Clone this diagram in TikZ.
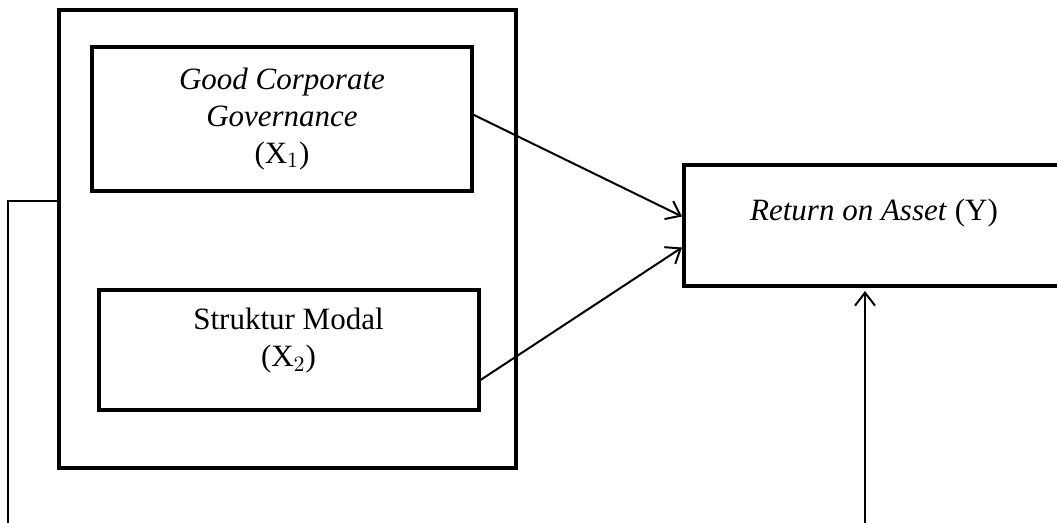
\documentclass[tikz,border=0pt]{standalone}
\usepackage{fontspec}
\setmainfont{Liberation Serif}
\usetikzlibrary{arrows.meta,positioning,calc}
\tikzset{
    % Variable box style - thick black border
    varbox/.style={
        rectangle,
        minimum width=190pt,
        text centered,
        align=center,
        draw=black,
        fill=white,
        line width=2pt,
        font=\fontsize{15.5}{18.5}\selectfont
    },
    % Outer frame around the independent variables
    frame/.style={
        rectangle,
        minimum width=228.5pt,
        minimum height=229pt,
        draw=black,
        line width=2.2pt
    },
    % Arrow style
    arrow/.style={
        -{Straight Barb[length=6.5pt,width=10pt]},
        line width=1pt,
        draw=black
    },
    % Thin connecting line
    link/.style={
        line width=0.8pt,
        draw=black
    }
}
\begin{document}
\begin{tikzpicture}[x=0.5pt,y=-0.5pt]
    \useasboundingbox (0,0) rectangle (1057,523);
    \clip (0,0) rectangle (1057,523);

    % ========== INDEPENDENT VARIABLES ==========
    \node[frame] (frame) at (287.5,239) {};
    \node[varbox, minimum height=72pt] (gcg) at (282,119) {\textit{Good Corporate}\\\textit{Governance}\\(X$_1$)};
    \node[varbox, minimum height=60pt, text height=28.5pt, text depth=11.5pt] (modal) at (288.5,350) {Struktur Modal\\(X$_2$)};

    % ========== DEPENDENT VARIABLE ==========
    \node[varbox, minimum height=60.5pt, text height=10.7pt, text depth=15.2pt] (roa) at (874,225.5) {\textit{Return on Asset} (Y)};

    % free ends of the lines leaving the picture
    \coordinate (leftend) at (8,540);
    \coordinate (rightend) at (865,540);

    % ========== CONNECTIONS ==========
    \draw[arrow] ([yshift=2pt]gcg.east) -- ([yshift=4.5pt]roa.west);
    \draw[arrow] ([yshift=-15pt]modal.east) -- ([yshift=-11pt]roa.west);

    \draw[link] ([yshift=19pt]frame.west) -| (leftend);
    \draw[arrow, shorten >=1.5pt] (rightend) -- (rightend |- roa.south);

\end{tikzpicture}
\end{document}
